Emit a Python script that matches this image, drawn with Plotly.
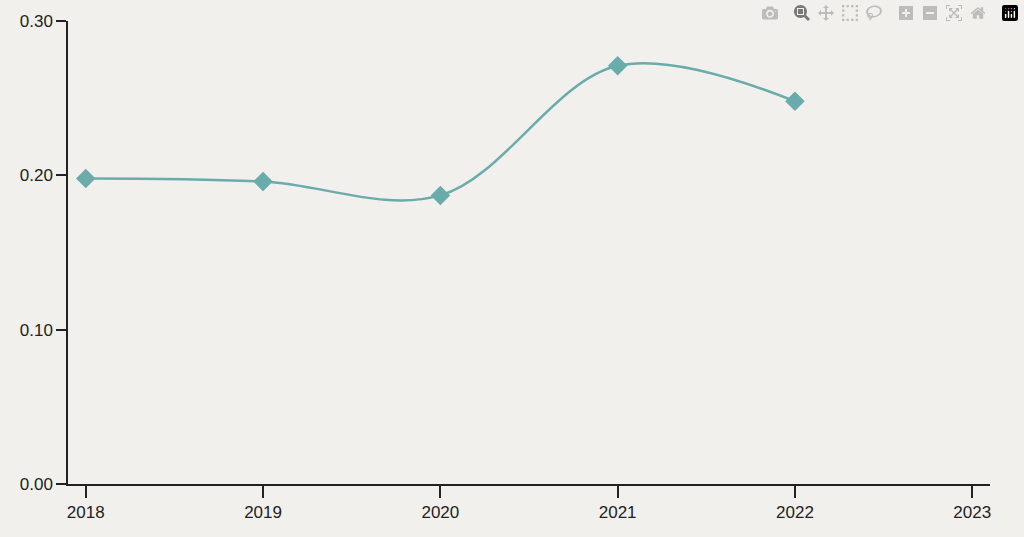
import plotly.graph_objects as go

years = [2018, 2019, 2020, 2021, 2022]
values = [0.198, 0.196, 0.187, 0.271, 0.248]
x_ticks = [2018, 2019, 2020, 2021, 2022, 2023]
y_ticks = [0.0, 0.1, 0.2, 0.3]
y_labels = ["0.00", "0.10", "0.20", "0.30"]

fig = go.Figure(go.Scatter(
    x=years, y=values, mode="lines+markers",
    line=dict(color="#6aabab", width=2.5, shape="spline", smoothing=1),
    marker=dict(symbol="diamond", size=15, color="#6aabab"),
))
bg = "#f1f0ed"
fig.update_layout(
    width=1024, height=537, paper_bgcolor=bg, plot_bgcolor=bg,
    margin=dict(l=68, r=34, t=21, b=53), showlegend=False,
    font=dict(family="Liberation Sans, Arial", size=17, color="#222"),
)
fig.update_xaxes(range=[2017.9, 2023.1], tickvals=x_ticks, showgrid=False, zeroline=False,
                 showline=True, linecolor="#222", linewidth=1.5, ticks="outside",
                 ticklen=12, tickcolor="#222", tickwidth=1.5)
fig.update_yaxes(range=[0, 0.3], tickvals=y_ticks, ticktext=y_labels, showgrid=False,
                 zeroline=False, showline=True, linecolor="#222", linewidth=1.5,
                 ticks="outside", ticklen=10, tickcolor="#222", tickwidth=1.5)
fig.write_html("out.html")

with open("out.html", encoding="utf-8") as f:
    html = f.read()
html = html.replace("<head>", "<head><style>html,body{margin:0;padding:0;background:#f1f0ed;}</style>", 1)
with open("out.html", "w", encoding="utf-8") as f:
    f.write(html)
